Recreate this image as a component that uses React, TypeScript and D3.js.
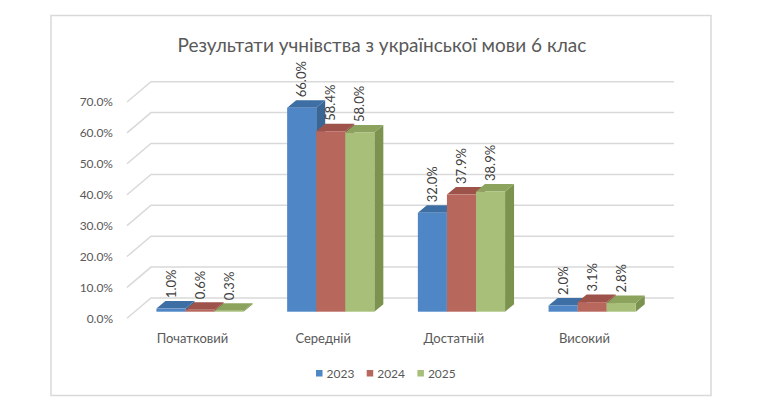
import React, { useEffect, useRef } from 'react';
import * as d3 from 'd3';

const categories = ['Початковий', 'Середній', 'Достатній', 'Високий'];
const years = ['2023', '2024', '2025'];
const values2023 = [1.0, 66.0, 32.0, 2.0];
const values2024 = [0.6, 58.4, 37.9, 3.1];
const values2025 = [0.3, 58.0, 38.9, 2.8];
const yTicks = [0, 10, 20, 30, 40, 50, 60, 70];

const title = 'Результати учнівства з української мови 6 клас';

export default function App() {
    const svgRef = useRef<SVGSVGElement>(null);
    const width = 770;
    const height = 407;

    useEffect(() => {
        const svg = d3.select(svgRef.current);
        svg.selectAll('*').remove();

        const font = 'Lato, "Open Sans", sans-serif';
        const textColor = '#595959';
        const series = [values2023, values2024, values2025];
        const colors = [
            { front: '#4f86c6', top: '#3e6fa4', side: '#3a6695' },
            { front: '#b8675d', top: '#9d524a', side: '#8d4a44' },
            { front: '#a7bf79', top: '#8ba35c', side: '#7c9350' },
        ];

        // wall depth (front plane offset) and bar placement inside the depth
        const wallDx = -24;
        const wallDy = 20.3;
        const barDx = -16.4;
        const barDy = 13.7;
        const depthX = 9;
        const depthY = 7.5;

        // background frame
        svg.append('rect')
            .attr('x', 51).attr('y', 15.5)
            .attr('width', 660).attr('height', 380)
            .attr('fill', '#fff')
            .attr('stroke', '#d9d9d9')
            .attr('stroke-width', 1.5);

        // title
        svg.append('text')
            .attr('x', 382).attr('y', 52)
            .attr('text-anchor', 'middle')
            .attr('font-family', font)
            .attr('font-size', 19)
            .attr('fill', textColor)
            .text(title);

        // scales (back wall)
        const y = d3.scaleLinear().domain([0, 70]).range([298, 81.7]);
        const x0 = d3.scaleBand()
            .domain(categories)
            .range([151, 674])
            .paddingInner(0.333)
            .paddingOuter(0.167);
        const x1 = d3.scaleBand()
            .domain(years)
            .range([0, x0.bandwidth()]);

        // gridlines: side wall diagonal + back wall line
        const grid = svg.append('g')
            .attr('stroke', '#d9d9d9')
            .attr('stroke-width', 1.5)
            .attr('fill', 'none');
        yTicks.forEach(t => {
            grid.append('path')
                .attr('d', `M${151 + wallDx},${y(t) + wallDy}L151,${y(t)}L674,${y(t)}`);
        });

        // y axis labels on the front plane
        svg.append('g')
            .selectAll('text')
            .data(yTicks)
            .join('text')
            .attr('x', 113)
            .attr('y', d => y(d) + wallDy)
            .attr('dy', '0.35em')
            .attr('text-anchor', 'end')
            .attr('font-family', font)
            .attr('font-size', 12)
            .attr('fill', textColor)
            .text(d => d3.format('.1f')(d) + '%');

        // category labels
        svg.append('g')
            .selectAll('text')
            .data(categories)
            .join('text')
            .attr('x', d => (x0(d) as number) + x0.bandwidth() / 2 + wallDx)
            .attr('y', 338)
            .attr('dy', '0.35em')
            .attr('text-anchor', 'middle')
            .attr('font-family', font)
            .attr('font-size', 13)
            .attr('fill', textColor)
            .text(d => d);

        // bars
        const bars = svg.append('g');
        const labels = svg.append('g');
        categories.forEach((cat, ci) => {
            years.forEach((yr, si) => {
                const v = series[si][ci];
                const c = colors[si];
                const bx = (x0(cat) as number) + (x1(yr) as number) + barDx;
                const bw = x1.bandwidth();
                const y0 = y(0) + barDy;
                const yt = y(v) + barDy;

                const g = bars.append('g');
                g.append('path')
                    .attr('d', `M${bx + bw},${yt}L${bx + bw + depthX},${yt - depthY}L${bx + bw + depthX},${y0 - depthY}L${bx + bw},${y0}Z`)
                    .attr('fill', c.side);
                g.append('path')
                    .attr('d', `M${bx},${yt}L${bx + depthX},${yt - depthY}L${bx + bw + depthX},${yt - depthY}L${bx + bw},${yt}Z`)
                    .attr('fill', c.top);
                g.append('rect')
                    .attr('x', bx).attr('y', yt)
                    .attr('width', bw).attr('height', y0 - yt)
                    .attr('fill', c.front);

                const lx = bx + bw / 2;
                const ly = yt - depthY - 3;
                labels.append('text')
                    .attr('transform', `translate(${lx},${ly}) rotate(-90)`)
                    .attr('dy', '0.35em')
                    .attr('font-family', font)
                    .attr('font-size', 13)
                    .attr('fill', '#404040')
                    .text(d3.format('.1f')(v) + '%');
            });
        });

        // legend
        const legend = svg.append('g');
        years.forEach((yr, i) => {
            const lx = 316 + i * 50.7;
            legend.append('rect')
                .attr('x', lx).attr('y', 370)
                .attr('width', 6.5).attr('height', 6.5)
                .attr('fill', colors[i].front);
            legend.append('text')
                .attr('x', lx + 10.5).attr('y', 373.3)
                .attr('dy', '0.35em')
                .attr('font-family', font)
                .attr('font-size', 12)
                .attr('fill', textColor)
                .text(yr);
        });
    }, []);

    return (
        <svg
            ref={svgRef}
            width={width}
            height={height}
            style={{ position: 'absolute', left: 0, top: 0, background: '#fff' }}
        />
    );
}
